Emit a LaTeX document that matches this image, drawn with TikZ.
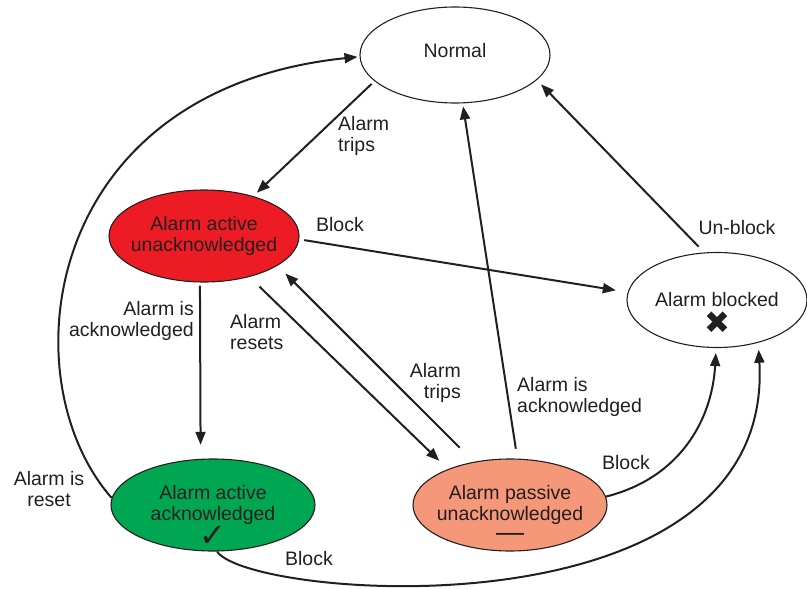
\documentclass[tikz,border=0pt]{standalone}
\usepackage{fontspec}
\setmainfont{Liberation Sans}
\newfontfamily\symfont{DejaVu Sans}
\usetikzlibrary{arrows.meta,shapes.geometric}
\definecolor{ink}{RGB}{35,31,32}
\definecolor{alarmred}{RGB}{237,28,36}
\definecolor{alarmgreen}{RGB}{0,166,81}
\definecolor{alarmsalmon}{RGB}{245,151,121}
\tikzset{
  state/.style={ellipse,draw=ink,line width=1.1pt,inner xsep=-15pt,inner ysep=0pt,align=center,text=ink},
  arr/.style={-{Triangle[length=13pt,width=10pt]},draw=ink,line width=2pt},
  lbl/.style={text=ink,inner sep=0pt},
  sym/.style={text=ink,inner sep=0pt}
}

\begin{document}
\begin{tikzpicture}[x=1pt,y=-1pt,font=\fontsize{19.5}{21}\selectfont]
\useasboundingbox (0,0) rectangle (807,589);
\node[state,text depth=9pt,minimum width=190pt,minimum height=96pt] (normal) at (455,55) {Normal};
\node[state,fill=alarmred,minimum width=190pt,minimum height=92pt] (activeunack) at (204,236) {Alarm active\\unacknowledged};
\node[state,minimum width=180pt,minimum height=95pt] (blocked) at (717,300) {Alarm blocked};
\node[state,fill=alarmgreen,minimum width=204pt,minimum height=92pt] (activeack) at (213,505) {Alarm active\\acknowledged};
\node[state,fill=alarmsalmon,minimum width=194pt,minimum height=92pt] (passiveunack) at (510,505) {Alarm passive\\unacknowledged};
\node[sym,font=\fontsize{32}{32}\symfont] (ackmark) at (213,536) {✓};
\node[sym,font=\fontsize{31}{31}\symfont] (blockedmark) at (717,323) {✖};
\node[sym,font=\fontsize{28}{28}\selectfont] (passivemark) at (510,537) {—};

\draw[arr,shorten <=4pt,shorten >=5pt] (normal.198.6) -- (activeunack.39.2);
\draw[arr,shorten <=5pt,shorten >=12pt] (activeunack.358) -- (blocked.175.5);
\draw[arr,shorten <=3pt,shorten >=14pt] (activeunack.265.3) -- (activeack.105.8);
\draw[arr,shorten <=14pt,shorten >=12pt] (activeunack.318.2) -- (passiveunack.150);
\draw[arr,shorten <=20pt,shorten >=11pt] (passiveunack.130.9) -- (activeunack.338);
\draw[arr,shorten <=10pt,shorten >=3pt] (passiveunack.81) -- (normal.279);
\draw[arr,shorten <=8pt,shorten >=6pt] (blocked.105) -- (normal.343);
\draw[arr,shorten >=5pt] (passiveunack.5) .. controls (680,478) and (712,420) .. (blocked.269);
\draw[arr,shorten >=2pt] (activeack.176) .. controls (8,380) and (40,90) .. (normal.181);
\draw[arr,shorten >=7pt] (activeack.275) .. controls (250,600) and (775,640) .. (blocked.314);

\node[lbl,anchor=west,align=left] (tripslbl) at (338,136) {Alarm\\trips};
\node[lbl] (blocklbl) at (340,225) {Block};
\node[lbl,anchor=east,align=right] (acklbl) at (194,321) {Alarm is\\acknowledged};
\node[lbl,anchor=west,align=left] (resetslbl) at (230,332) {Alarm\\resets};
\node[lbl,anchor=east,align=right] (retripslbl) at (461,383) {Alarm\\trips};
\node[lbl,anchor=west,align=left] (passacklbl) at (517,397) {Alarm is\\acknowledged};
\node[lbl] (passblocklbl) at (626,463) {Block};
\node[lbl] (unblocklbl) at (737,228) {Un-block};
\node[lbl,align=center] (resetlbl) at (49,489) {Alarm is\\reset};
\node[lbl] (ackblocklbl) at (309,559) {Block};
\end{tikzpicture}
\end{document}
